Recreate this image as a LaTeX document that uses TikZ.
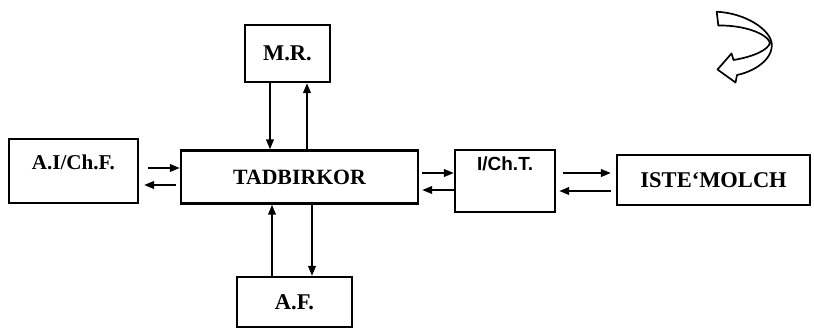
\documentclass[tikz,border=0pt]{standalone}
\usepackage{fontspec}
\setmainfont{Liberation Serif}
\newfontfamily\sansbf{Liberation Sans}
\usetikzlibrary{arrows.meta}
\begin{document}
\begin{tikzpicture}[x=0.025cm, y=-0.025cm, node distance=5cm,
    block/.style={draw, line width=1.8pt, inner sep=0pt, font=\bfseries\fontsize{15}{17}\selectfont},
    flow/.style={-{Triangle[length=7pt,width=5.5pt]}, line width=1pt}]
            \useasboundingbox (0,0) rectangle (814,331);
            \node(tad) [block, minimum width=5.925cm, minimum height=1.325cm, font=\bfseries\fontsize{15.5}{17}\selectfont] at (299.5,177) {TADBIRKOR};
            \node(ai) [block, left of=tad, node distance=5.65cm, yshift=0.15cm, minimum width=3.225cm, text height=0.75cm, text depth=0.85cm] {A.I/Ch.F.};
            \node(ich) [block, right of=tad, node distance=5.1375cm, yshift=-0.1cm, minimum width=2.5cm, text height=0.5cm, text depth=1.05cm, font=\sansbf\bfseries\fontsize{13.5}{15}\selectfont] {I/Ch.T.};
            \node(iste) [block, right of=ich, node distance=5.2125cm, yshift=0.025cm, minimum width=4.825cm, minimum height=1.25cm, font=\bfseries\fontsize{16}{18}\selectfont] {ISTE`MOLCH};
            \node(mr) [block, above of=tad, node distance=3.0875cm, xshift=-0.3cm, minimum width=2.125cm, minimum height=1.425cm, font=\bfseries\fontsize{16}{18}\selectfont] {M.R.};
            \node(af) [block, below of=tad, node distance=3.125cm, xshift=-0.125cm, minimum width=2.875cm, minimum height=1.25cm, font=\bfseries\fontsize{16}{18}\selectfont] {A.F.};
            \draw[flow]([xshift=0.225cm, yshift=0.225cm]ai.east |- tad.west) to ([yshift=0.225cm]tad.west);
            \draw[flow]([xshift=-0.1cm, yshift=-0.2cm]tad.west) to ([xshift=0.125cm, yshift=-0.2cm]ai.east |- tad.west);
            \draw[flow]([xshift=0.075cm, yshift=0.1cm]tad.east) to ([yshift=0.1cm]tad.east -| ich.west);
            \draw[flow]([yshift=-0.325cm]tad.east -| ich.west) to ([xshift=0.075cm, yshift=-0.325cm]tad.east);
            \draw[flow]([xshift=0.175cm, yshift=0.2cm]ich.east) to ([xshift=-0.125cm, yshift=0.2cm]ich.east -| iste.west);
            \draw[flow]([xshift=-0.125cm, yshift=-0.25cm]ich.east -| iste.west) to ([xshift=0.075cm, yshift=-0.25cm]ich.east);
            \draw[flow]([xshift=-0.4375cm]mr.south) to ([xshift=-0.4375cm]mr.south |- tad.north);
            \draw[flow]([xshift=0.4875cm]mr.south |- tad.north) to ([xshift=0.4875cm]mr.south);
            \draw[flow]([xshift=-0.5625cm]af.north) to ([xshift=-0.5625cm]af.north |- tad.south);
            \draw[flow]([xshift=0.4375cm]af.north |- tad.south) to ([xshift=0.4375cm]af.north);
            \draw[line width=1.2pt, line join=round, fill=white]
                (716.7,11.7) .. controls (746.7,13.3) and (770,30) .. (771.7,43.3)
                .. controls (773.3,60) and (753.3,71.7) .. (737,75)
                -- (735.5,82.5) -- (717.5,69.5) -- (731.5,53.5) -- (733.5,60)
                .. controls (753.3,56.7) and (768.3,50) .. (770,42.7)
                .. controls (766.7,33.3) and (743.3,25) .. (718.3,25.5) -- cycle;
            \end{tikzpicture}
\end{document}
